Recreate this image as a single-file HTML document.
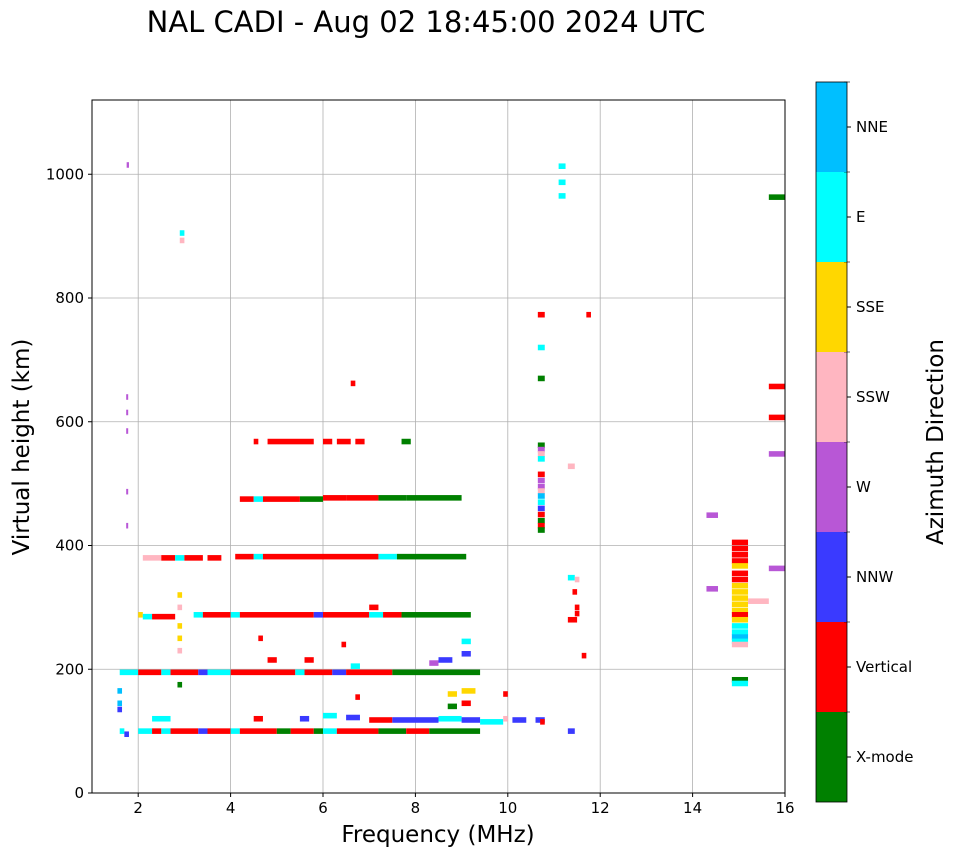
<!DOCTYPE html>
<html>
<head>
<meta charset="utf-8">
<style>
html,body{margin:0;padding:0;background:#fff;}
svg{display:block;font-family:"DejaVu Sans","Liberation Sans",sans-serif;}
</style>
</head>
<body>
<svg id="chart" width="958" height="857" viewBox="0 0 958 857">
  <text x="426" y="32" font-size="29" text-anchor="middle">NAL CADI - Aug 02 18:45:00 2024 UTC</text>
  <g id="grid"></g>
  <g id="marks"></g>
  <rect x="92" y="100" width="693" height="693" fill="none" stroke="#000" stroke-width="1"/>
  <g id="xticks"></g>
  <g id="yticks"></g>
  <text x="438" y="842" font-size="23" text-anchor="middle">Frequency (MHz)</text>
  <text transform="translate(29,447) rotate(-90)" font-size="23" text-anchor="middle">Virtual height (km)</text>
  <g id="cbar"></g>
  <text transform="translate(943,442) rotate(-90)" font-size="23" text-anchor="middle">Azimuth Direction</text>
</svg>
<script>
const categories = ["X-mode","Vertical","NNW","W","SSW","SSE","E","NNE"];
const catColors = ["#008000","#ff0000","#3a3aff","#b857d6","#ffb6c1","#ffd700","#00ffff","#00bfff"];
const xTicks = [2,4,6,8,10,12,14,16];
const yTicks = [0,200,400,600,800,1000];
// segments: [freqStart, freqEnd, height(km), categoryIndex]
const segments = [
[1.6,1.7,100,6],[1.7,1.8,95,2],[2.0,2.3,100,6],[2.3,2.5,100,1],[2.5,2.7,100,6],[2.7,3.3,100,1],[3.3,3.5,100,2],[3.5,4.0,100,1],[4.0,4.2,100,6],[4.2,5.0,100,1],[5.0,5.3,100,0],[5.3,5.8,100,1],[5.8,6.0,100,0],[6.0,6.3,100,6],[6.3,7.2,100,1],[7.2,7.8,100,0],[7.8,8.3,100,1],[8.3,9.4,100,0],
[2.3,2.7,120,6],[4.5,4.7,120,1],[5.5,5.7,120,2],[6.0,6.3,125,6],[6.5,6.8,122,2],[7.0,7.5,118,1],[7.5,8.5,118,2],[8.5,9.0,120,6],[9.0,9.4,118,2],[9.4,9.9,115,6],[9.9,10.0,120,4],[10.6,10.8,118,2],[10.7,10.8,115,1],[10.1,10.4,118,2],[11.3,11.45,100,2],
[1.6,2.0,195,6],[2.0,2.5,195,1],[2.5,2.7,195,6],[2.7,3.3,195,1],[3.3,3.5,195,2],[3.5,4.0,195,6],[4.0,5.4,195,1],[5.4,5.6,195,6],[5.6,6.2,195,1],[6.2,6.5,195,2],[6.5,7.5,195,1],[7.5,9.4,195,0],
[8.3,8.5,210,3],[8.5,8.8,215,2],[9.0,9.2,225,2],[9.0,9.2,245,6],[6.4,6.5,240,1],[4.6,4.7,250,1],[4.8,5.0,215,1],[5.6,5.8,215,1],[6.6,6.8,205,6],
[8.7,8.9,160,5],[9.0,9.3,165,5],[9.0,9.2,145,1],[9.9,10.0,160,1],[6.7,6.8,155,1],[8.7,8.9,140,0],
[2.0,2.1,288,5],[2.1,2.3,285,6],[2.3,2.8,285,1],[3.2,3.4,288,6],[3.4,4.0,288,1],[4.0,4.2,288,6],[4.2,5.8,288,1],[5.8,6.0,288,2],[6.0,7.0,288,1],[7.0,7.3,288,6],[7.3,7.7,288,1],[7.7,9.2,288,0],[7.0,7.2,300,1],
[2.1,2.5,380,4],[2.5,2.8,380,1],[2.8,3.0,380,6],[3.0,3.4,380,1],[3.5,3.8,380,1],[4.1,4.5,382,1],[4.5,4.7,382,6],[4.7,7.2,382,1],[7.2,7.6,382,6],[7.6,9.1,382,0],
[4.2,4.5,475,1],[4.5,4.7,475,6],[4.7,5.5,475,1],[5.5,6.0,475,0],[6.0,6.5,477,1],[6.5,7.2,477,1],[7.2,7.8,477,0],[7.8,9.0,477,0],
[4.5,4.6,568,1],[4.8,5.8,568,1],[6.0,6.2,568,1],[6.3,6.6,568,1],[6.7,6.9,568,1],[7.7,7.9,568,0],
[10.65,10.8,562,0],[10.65,10.8,555,3],[10.65,10.8,548,4],[10.65,10.8,540,6],[10.65,10.8,515,1],[10.65,10.8,505,3],[10.65,10.8,495,3],[10.65,10.8,488,4],[10.65,10.8,480,7],[10.65,10.8,470,6],[10.65,10.8,460,2],[10.65,10.8,450,1],[10.65,10.8,440,0],[10.65,10.8,432,1],[10.65,10.8,425,0],
[14.85,15.2,405,1],[14.85,15.2,395,1],[14.85,15.2,385,1],[14.85,15.2,375,1],[14.85,15.2,367,5],[14.85,15.2,355,1],[14.85,15.2,345,1],[14.85,15.2,335,5],[14.85,15.2,325,5],[14.85,15.2,315,5],[14.85,15.2,305,5],[14.85,15.2,295,5],[14.85,15.2,288,1],[14.85,15.2,280,5],[14.85,15.2,270,6],[14.85,15.2,260,6],[14.85,15.2,252,7],[14.85,15.2,245,6],[14.85,15.2,240,4],
[1.75,1.8,1015,3],[2.9,3.0,905,6],[2.9,3.0,893,4],[11.1,11.25,1013,6],[11.1,11.25,987,6],[11.1,11.25,965,6],[10.65,10.8,773,1],[11.7,11.8,773,1],[10.65,10.8,720,6],[10.65,10.8,670,0],[6.6,6.7,662,1],[11.3,11.45,528,4],[11.3,11.45,348,6],[11.45,11.55,345,4],[11.4,11.5,325,1],[11.45,11.55,300,1],[11.45,11.55,290,1],[11.3,11.5,280,1],[11.6,11.7,222,1],[14.3,14.55,449,3],[14.3,14.55,330,3],[15.2,15.65,310,4],[15.65,16,963,0],[15.65,16,657,1],[15.65,16,607,1],[15.65,16,548,3],[15.65,16,363,3],[14.85,15.2,183,0],[14.85,15.2,177,6],
[1.74,1.78,640,3],[1.74,1.78,615,3],[1.74,1.78,585,3],[1.74,1.78,487,3],[1.74,1.78,432,3],
[1.55,1.65,165,7],[1.55,1.65,145,7],[1.55,1.65,135,2],[2.85,2.95,320,5],[2.85,2.95,300,4],[2.85,2.95,270,5],[2.85,2.95,250,5],[2.85,2.95,230,4],[2.85,2.95,175,0]
];
const NS="http://www.w3.org/2000/svg";
const X0=92,X1=785,Y0=793,Y1=100,XMIN=1,XMAX=16,YMIN=0,YMAX=1120;
function xs(v){return X0+(v-XMIN)/(XMAX-XMIN)*(X1-X0);}
function ys(v){return Y0-(v-YMIN)/(YMAX-YMIN)*(Y0-Y1);}
function mk(tag,attrs,parent){const e=document.createElementNS(NS,tag);for(const k in attrs)e.setAttribute(k,attrs[k]);parent.appendChild(e);return e;}
const grid=document.getElementById('grid'),xt=document.getElementById('xticks'),yt=document.getElementById('yticks'),marks=document.getElementById('marks'),cbar=document.getElementById('cbar');
xTicks.forEach(v=>{const x=xs(v);
 const g=mk('line',{x1:x,x2:x,y1:Y1,y2:Y0,stroke:'#b0b0b0','stroke-width':0.8},grid);
 
 
 mk('line',{x1:x,x2:x,y1:Y0,y2:Y0+4,stroke:'#000'},xt);
 const t=mk('text',{x:x,y:Y0+20,'font-size':15,'text-anchor':'middle'},xt);t.textContent=v;
 
 
});
yTicks.forEach(v=>{const y=ys(v);
 const g=mk('line',{x1:X0,x2:X1,y1:y,y2:y,stroke:'#b0b0b0','stroke-width':0.8},grid);
 
 
 mk('line',{x1:X0-4,x2:X0,y1:y,y2:y,stroke:'#000'},yt);
 const t=mk('text',{x:X0-8,y:y+5,'font-size':15,'text-anchor':'end'},yt);t.textContent=v;
 
 
});
segments.forEach(s=>{
 const x=xs(s[0]),w=Math.max(2,xs(s[1])-xs(s[0])),y=ys(s[2]+4.5),h=ys(s[2]-4.5)-ys(s[2]+4.5);
 const r=mk('rect',{x:x,y:y,width:w,height:h,fill:catColors[s[3]]},marks);
 
 
});
const CB_X=816,CB_W=31,CB_TOP=82,CB_BOT=802,n=categories.length,step=(CB_BOT-CB_TOP)/n;
categories.forEach((c,i)=>{
 const y=CB_BOT-(i+1)*step;
 const r=mk('rect',{x:CB_X,y:y,width:CB_W,height:step,fill:catColors[i]},cbar);
 
 
 mk('line',{x1:CB_X+CB_W,x2:CB_X+CB_W+4,y1:y+step/2,y2:y+step/2,stroke:'#000'},cbar);
 mk('line',{x1:CB_X+CB_W-3,x2:CB_X+CB_W+3,y1:y,y2:y,stroke:'#000','stroke-width':0.6},cbar);
 const t=mk('text',{x:CB_X+CB_W+9,y:y+step/2+5,'font-size':15},cbar);t.textContent=c;
 
 
});
mk('rect',{x:CB_X,y:CB_TOP,width:CB_W,height:CB_BOT-CB_TOP,fill:'none',stroke:'#000','stroke-width':0.8},cbar);
</script>
</body>
</html>
